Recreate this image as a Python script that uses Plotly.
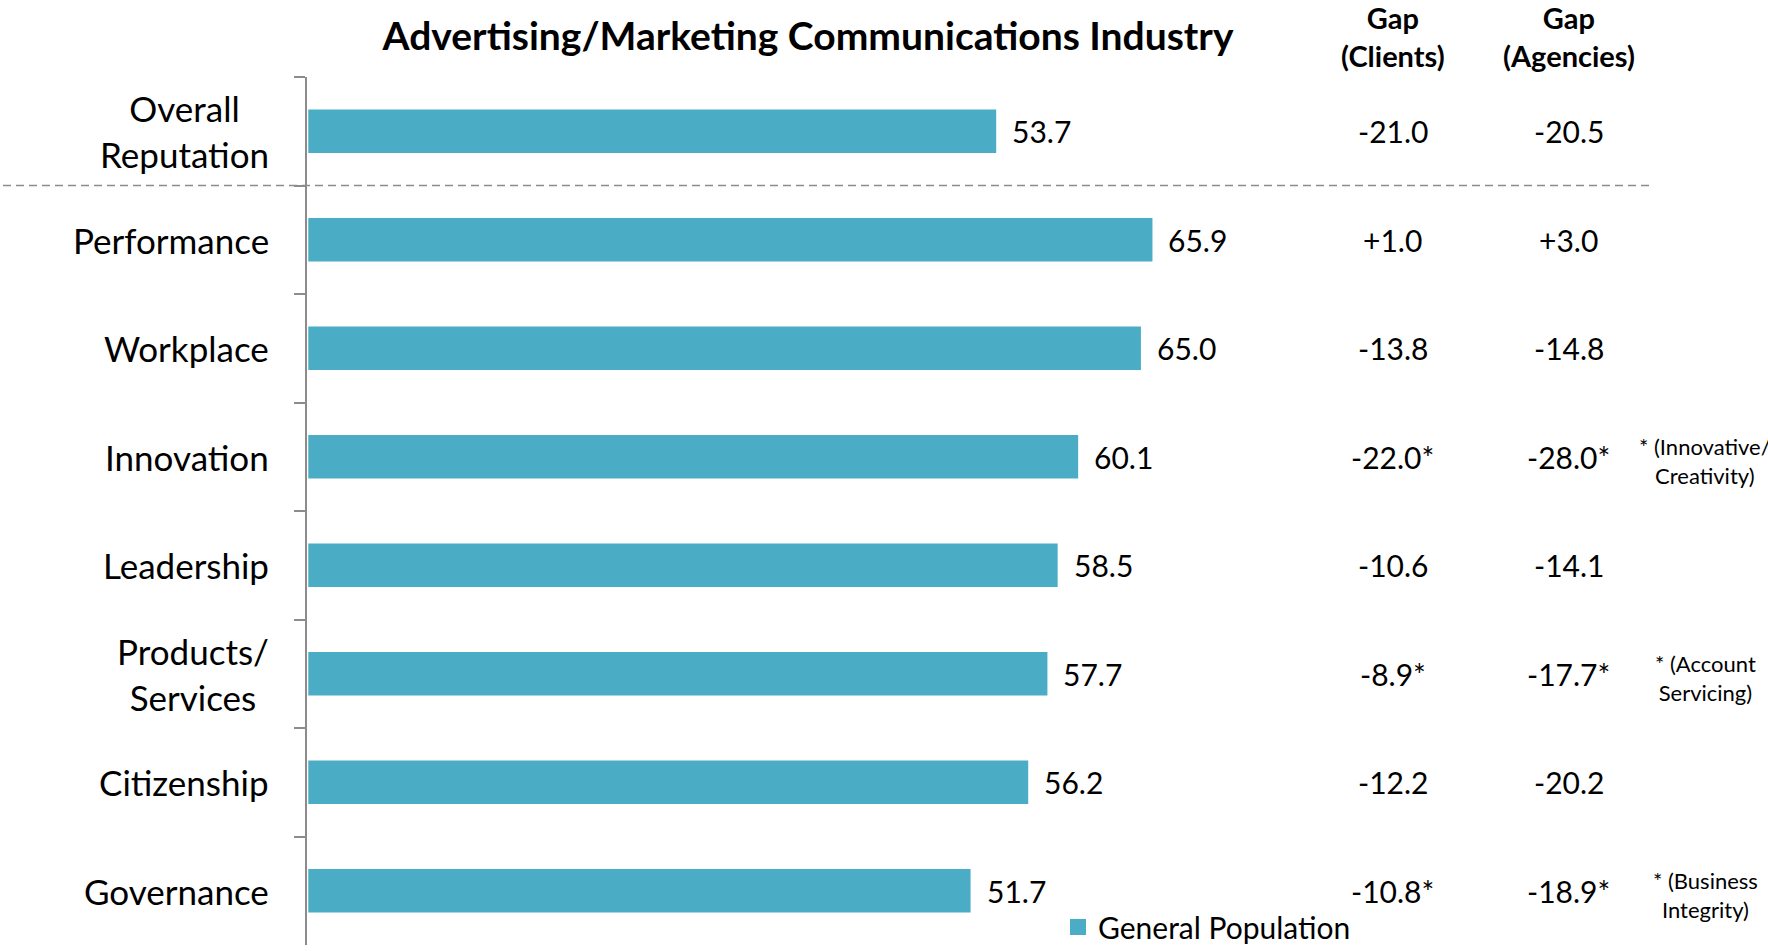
import plotly.graph_objects as go

# ---- data ----
categories = ["Overall Reputation", "Performance", "Workplace", "Innovation",
              "Leadership", "Products/Services", "Citizenship", "Governance"]
category_labels = ["Overall<br>Reputation", "Performance", "Workplace", "Innovation",
                   "Leadership", "Products/<br>Services", "Citizenship", "Governance"]
general_population = [53.7, 65.9, 65.0, 60.1, 58.5, 57.7, 56.2, 51.7]
gap_clients = [-21.0, 1.0, -13.8, -22.0, -10.6, -8.9, -12.2, -10.8]
gap_agencies = [-20.5, 3.0, -14.8, -28.0, -14.1, -17.7, -20.2, -18.9]
starred = [False, False, False, True, False, True, False, True]
star_notes = ["", "", "", "(Innovative/<br>Creativity)", "", "(Account<br>Servicing)",
              "", "(Business<br>Integrity)"]

# ---- page geometry (pixels) ----
FIG_W, FIG_H = 1768, 951
PLOT_L, PLOT_T, PLOT_B = 307, 77, 945
PX_PER_UNIT = 12.81
X_MIN = -0.1
PLOT_W = round(100 * PX_PER_UNIT)
PLOT_H = PLOT_B - PLOT_T


def px_x(px):
    return (px - PLOT_L) / PLOT_W


def px_y(py):
    return (PLOT_B - py) / PLOT_H


FONT = "Lato, Calibri, Carlito, sans-serif"
BAR_COLOR = "#4BACC6"
GRID_GRAY = "#8c8c8c"

fig = go.Figure()
fig.add_trace(go.Bar(
    x=general_population,
    y=categories,
    orientation="h",
    name="General Population",
    marker=dict(color=BAR_COLOR, line=dict(width=0)),
    hoverinfo="x+y",
    showlegend=False,
    legendgroup="gp",
))
# legend entry with a larger square swatch for the same series
fig.add_trace(go.Scatter(
    x=[None], y=[None], mode="markers", name="General Population",
    marker=dict(symbol="square", size=16, color=BAR_COLOR),
    legendgroup="gp", hoverinfo="skip",
))

annotations = []

# category labels, centred line by line
for cat, lab in zip(categories, category_labels):
    annotations.append(dict(
        x=px_x(271), xref="paper", y=cat, yref="y",
        text=lab, showarrow=False, xanchor="right", yanchor="middle",
        align="center", font=dict(size=35, color="#000", family=FONT),
    ))

# value labels at the bar ends
for cat, v in zip(categories, general_population):
    annotations.append(dict(
        x=v, xref="x", y=cat, yref="y", text=f"{v:.1f}", showarrow=False,
        xanchor="left", yanchor="middle", xshift=14,
        font=dict(size=30, color="#000", family=FONT),
    ))

# gap columns
col_clients = px_x(1392.6)
col_agencies = px_x(1568.5)
col_notes = px_x(1705)
for cat, gc, ga, st, note in zip(categories, gap_clients, gap_agencies, starred, star_notes):
    mark = "*" if st else ""
    for colx, val in ((col_clients, gc), (col_agencies, ga)):
        annotations.append(dict(
            x=colx, xref="paper", y=cat, yref="y", text=f"{val:+.1f}{mark}",
            showarrow=False, xanchor="center", yanchor="middle",
            font=dict(size=30, color="#000", family=FONT),
        ))
    if note:
        annotations.append(dict(
            x=col_notes, xref="paper", y=cat, yref="y", text="* " + note,
            showarrow=False, xanchor="center", yanchor="middle", align="center",
            yshift=-4, font=dict(size=22, color="#000", family=FONT),
        ))

# column headers
for colx, head in ((col_clients, "Gap<br>(Clients)"), (col_agencies, "Gap<br>(Agencies)")):
    annotations.append(dict(
        x=colx, xref="paper", y=px_y(37), yref="paper", text=f"<b>{head}</b>",
        showarrow=False, xanchor="center", yanchor="middle", align="center",
        font=dict(size=29, color="#000", family=FONT),
    ))

fig.update_layout(
    width=FIG_W, height=FIG_H,
    margin=dict(l=PLOT_L, r=FIG_W - PLOT_L - PLOT_W, t=PLOT_T, b=FIG_H - PLOT_B,
                pad=0, autoexpand=False),
    paper_bgcolor="white", plot_bgcolor="white",
    title=dict(
        text="<b>Advertising/Marketing Communications Industry</b>",
        x=px_x(808), xref="paper", xanchor="center",
        y=1 - 36 / FIG_H, yref="container", yanchor="middle",
        font=dict(size=39, color="#000", family=FONT),
    ),
    bargap=0.6,
    showlegend=True,
    legend=dict(
        x=px_x(1058), xref="paper", xanchor="left",
        y=px_y(927), yref="paper", yanchor="middle",
        font=dict(size=30, color="#000", family=FONT),
        bgcolor="rgba(0,0,0,0)", borderwidth=0,
    ),
    xaxis=dict(visible=False, range=[X_MIN, X_MIN + 100], fixedrange=True),
    yaxis=dict(
        type="category", categoryorder="array", categoryarray=categories,
        range=[len(categories) - 0.5, -0.5],
        showticklabels=False, showgrid=False, zeroline=False,
        showline=True, linecolor=GRID_GRAY, linewidth=1.5,
        ticks="outside", tickson="boundaries", ticklen=11,
        tickcolor=GRID_GRAY, tickwidth=1.5,
    ),
    annotations=annotations,
    shapes=[dict(
        type="line", xref="paper", yref="y",
        x0=px_x(3), x1=px_x(1652), y0=0.5, y1=0.5,
        line=dict(color=GRID_GRAY, width=1.5, dash="8px,5px"),
    )],
)

fig.write_html("out.html")
